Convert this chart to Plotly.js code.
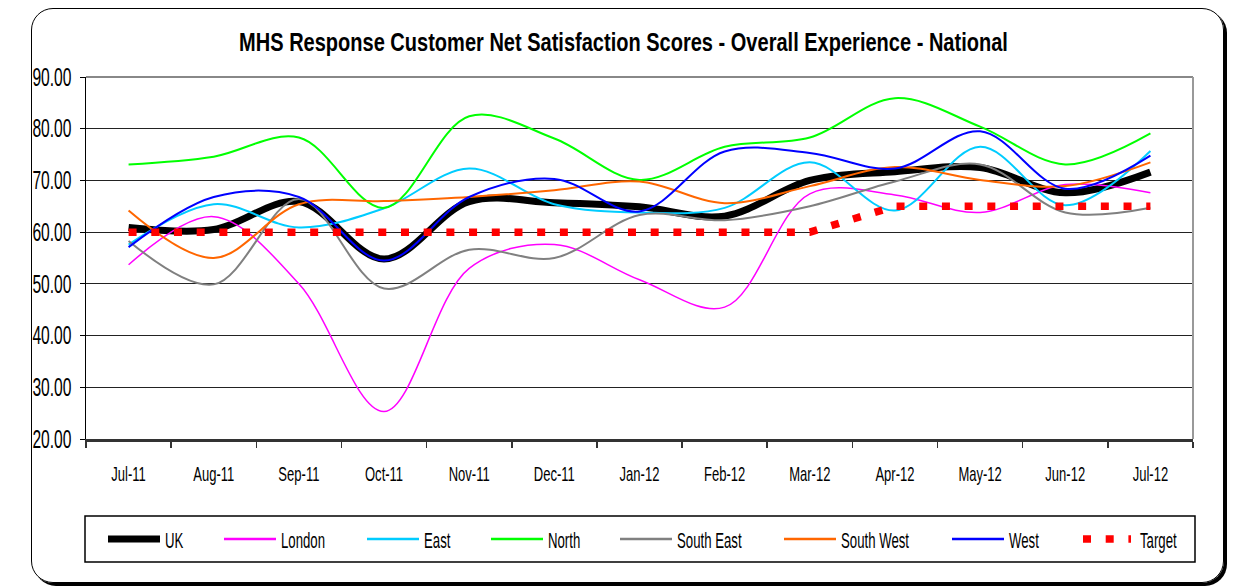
<!DOCTYPE html>
<html>
<head>
<meta charset="utf-8">
<script src="https://cdn.plot.ly/plotly-3.0.1.min.js"></script>
<style>
  html, body { margin:0; padding:0; background:#fff; }
  #wrap { position:relative; width:1241px; height:587px; overflow:hidden; }
  #frame { position:absolute; left:31px; top:8px; width:1191px; height:573px;
           border:1.5px solid #000; border-radius:22px; box-shadow:3px 3px 0 #000; }
  #chart { position:absolute; left:0; top:0; width:1241px; height:587px; }
</style>
</head>
<body>
<div id="wrap"><div id="frame"></div><div id="chart"></div></div>
<script>
const months = ['Jul-11','Aug-11','Sep-11','Oct-11','Nov-11','Dec-11','Jan-12','Feb-12','Mar-12','Apr-12','May-12','Jun-12','Jul-12'];
const uk        = [60.9, 60.5, 65.9, 54.8, 65.9, 65.7, 64.9, 63.1, 70.0, 71.7, 72.5, 67.6, 71.6];
const london    = [53.7, 63.0, 50.0, 25.3, 53.0, 57.6, 50.8, 45.5, 67.4, 67.2, 63.8, 69.2, 67.6];
const east      = [57.6, 65.4, 60.9, 64.6, 72.3, 65.4, 63.8, 64.7, 73.5, 64.2, 76.5, 65.2, 75.7];
const north     = [73.1, 74.6, 78.3, 64.7, 82.4, 78.1, 70.1, 76.5, 78.3, 85.9, 80.4, 73.1, 79.1];
const southEast = [58.3, 49.9, 66.4, 49.1, 56.6, 55.0, 63.3, 62.3, 65.0, 69.8, 73.1, 63.8, 64.7];
const southWest = [64.2, 55.0, 65.4, 66.0, 66.8, 68.1, 69.8, 65.6, 68.9, 72.6, 70.1, 68.9, 73.5];
const west      = [57.1, 66.8, 66.8, 54.5, 66.8, 70.3, 64.0, 75.6, 75.3, 72.3, 79.5, 68.4, 74.8];
const target    = [60, 60, 60, 60, 60, 60, 60, 60, 60, 65, 65, 65, 65];
const seriesNames = ['UK','London','East','North','South East','South West','West','Target'];
const yTicks = [20, 30, 40, 50, 60, 70, 80, 90];

const FONT = '"Liberation Sans Narrow", "Arial Narrow", "Liberation Sans", Arial, sans-serif';
const styles = {
  'UK':         {color:'#000000', width:7},
  'London':     {color:'#FF00FF', width:1.5},
  'East':       {color:'#00CCFF', width:2},
  'North':      {color:'#00FF00', width:2},
  'South East': {color:'#808080', width:2},
  'South West': {color:'#FF6600', width:2},
  'West':       {color:'#0000FF', width:2},
  'Target':     {color:'#FF0000', width:7.5, dash:'8px,14.7px'}
};
const values = [uk, london, east, north, southEast, southWest, west, target];

const traces = seriesNames.map((n, i) => {
  const s = styles[n];
  const isT = n === 'Target';
  return {
    type:'scatter', mode:'lines', name:n, x:months, y:values[i],
    line:{color:s.color, width:s.width, shape: isT ? 'linear' : 'spline', smoothing:1, dash: s.dash || 'solid'},
    showlegend:false, hoverinfo:'x+y+name'
  };
});

const L = 86, R = 48, T = 77, B = 148, W = 1241, H = 587;
const pw = W - L - R, ph = H - T - B;
const px = v => (v - L) / pw;
const py = v => (H - B - v) / ph;

const legendX = [108, 224, 367, 491, 620, 784, 952, 1083];
const legendY = 539;
const shapes = [
  {type:'line', xref:'paper', yref:'paper', x0:0, x1:1, y0:1, y1:1, line:{color:'#888', width:2}},
  {type:'line', xref:'paper', yref:'paper', x0:1, x1:1, y0:0, y1:1, line:{color:'#999', width:2}},
  {type:'rect', xref:'paper', yref:'paper', x0:px(85), x1:px(1195), y0:py(562), y1:py(516), line:{color:'#000', width:1.5}}
];
const annotations = [];
seriesNames.forEach((n, i) => {
  const s = styles[n];
  const x0 = legendX[i];
  shapes.push({type:'line', xref:'paper', yref:'paper', x0:px(x0), x1:px(x0 + (n==='Target'?48:52)), y0:py(legendY), y1:py(legendY),
    line:{color:s.color, width: n==='UK' ? 7 : (n==='Target' ? 7.5 : 2.5), dash: s.dash || 'solid'}});
  annotations.push({xref:'paper', yref:'paper', x:px(x0 + 55), y:py(legendY + 1), xanchor:'left', yanchor:'middle',
    text:n, showarrow:false, font:{family:FONT, size:22, color:'#000'}});
});

const layout = {
  width:W, height:H,
  margin:{l:L, r:R, t:T, b:B},
  paper_bgcolor:'rgba(0,0,0,0)', plot_bgcolor:'rgba(0,0,0,0)',
  font:{family:FONT, color:'#000'},
  title:{text:'<b>MHS Response Customer Net Satisfaction Scores - Overall Experience - National</b>',
         xref:'container', yref:'container', x:0.5024, y:1 - 42/587, xanchor:'center', yanchor:'middle',
         font:{family:FONT, size:26, color:'#000'}},
  xaxis:{type:'category', range:[-0.5, 12.5], tickson:'boundaries', ticks:'outside', ticklen:6, tickcolor:'#333', tickwidth:1.5,
         showline:true, linecolor:'#333', linewidth:2.5, showgrid:false, zeroline:false,
         tickfont:{family:FONT, size:21, color:'#000'}, ticklabelstandoff:14},
  yaxis:{range:[20, 90], tickvals:yTicks, tickformat:'.2f', ticks:'outside', ticklen:5, tickcolor:'#000',
         showline:true, linecolor:'#000', linewidth:1.5, showgrid:true, gridcolor:'#222', gridwidth:1,
         zeroline:false, tickfont:{family:FONT, size:25, color:'#000'}, ticklabelstandoff:3},
  shapes:shapes, annotations:annotations
};

// narrow the text horizontally (the reference uses a tall condensed face)
function condense(sel, factor) {
  document.querySelectorAll('#chart ' + sel).forEach(t => {
    const w = t.getComputedTextLength();
    if (!w) return;
    const anchor = t.getAttribute('text-anchor') || getComputedStyle(t).textAnchor;
    t.setAttribute('textLength', (w * factor).toFixed(2));
    t.setAttribute('lengthAdjust', 'spacingAndGlyphs');
    if (sel === '.annotation-text' && anchor === 'middle') {
      const x = parseFloat(t.getAttribute('x') || '0');
      t.setAttribute('x', (x - w * (1 - factor) / 2).toFixed(2));
    }
  });
}
Plotly.newPlot('chart', traces, layout, {displayModeBar:false, staticPlot:true}).then(() => {
  condense('.gtitle', 0.77);
  condense('.ytick text', 0.625);
  condense('.xtick text', 0.62);
  condense('.annotation-text', 0.6);
});
</script>
</body>
</html>
